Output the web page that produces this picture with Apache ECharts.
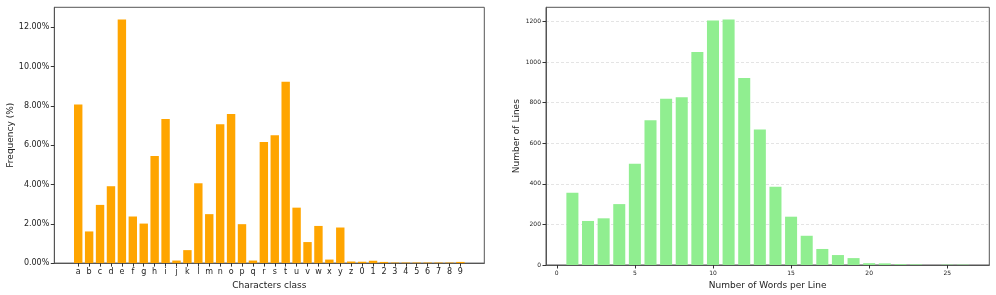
<!DOCTYPE html>
<html>
<head>
<meta charset="utf-8">
<script src="https://cdn.jsdelivr.net/npm/echarts@6/dist/echarts.min.js"></script>
<style>
html,body{margin:0;padding:0;background:#fff;}
#c{width:996px;height:295px;}
</style>
</head>
<body>
<div id="c"></div>
<script>
// ---- data ----
const chars = ['a','b','c','d','e','f','g','h','i','j','k','l','m','n','o','p','q','r','s','t','u','v','w','x','y','z','0','1','2','3','4','5','6','7','8','9'];
const freq = [8.07,1.61,2.96,3.91,12.39,2.37,2.01,5.45,7.33,0.13,0.66,4.06,2.49,7.06,7.58,1.98,0.13,6.16,6.50,9.22,2.82,1.07,1.89,0.18,1.81,0.08,0.07,0.12,0.06,0.03,0.03,0.03,0.03,0.03,0.03,0.06];
const freqTicks = [0,2,4,6,8,10,12];
const wordCounts = [1,2,3,4,5,6,7,8,9,10,11,12,13,14,15,16,17,18,19,20,21,22,23,25,26];
const lineCounts = [356,217,230,300,499,713,819,826,1049,1205,1209,921,667,386,238,144,79,49,34,9,8,4,3,2,2];
const wordTicks = [0,5,10,15,20,25];
const lineTicks = [0,200,400,600,800,1000,1200];

const FONT = 'DejaVu Sans';
const TXT = '#222';
const FRAME = '#555';

const chart = echarts.init(document.getElementById('c'), null, {renderer:'canvas'});
const charIdx = chars.map((c,i)=>i);

chart.setOption({
  animation:false,
  backgroundColor:'#fff',
  textStyle:{fontFamily:FONT},
  grid:[
    {left:54.3, right:511.7, top:7.3, bottom:31.7, show:true, borderColor:FRAME, borderWidth:1, backgroundColor:'transparent', containLabel:false},
    {left:546, right:6.7, top:7.3, bottom:30, show:true, borderColor:FRAME, borderWidth:1, backgroundColor:'transparent', containLabel:false}
  ],
  xAxis:[
    {type:'value', gridIndex:0, min:-2.19, max:37.19,
     name:'Characters class', nameLocation:'middle', nameGap:14,
     nameTextStyle:{fontFamily:FONT, fontSize:9, color:TXT},
     axisLine:{show:true, onZero:false, lineStyle:{color:FRAME}},
     axisTick:{show:true, length:3.5, customValues:charIdx, lineStyle:{color:'#333'}},
     axisLabel:{show:true, customValues:charIdx, margin:5, fontSize:8, fontFamily:FONT, color:TXT,
       formatter:(v)=>chars[Math.round(v)]},
     splitLine:{show:false}},
    {type:'value', gridIndex:1, min:-0.69, max:27.69,
     name:'Number of Words per Line', nameLocation:'middle', nameGap:14,
     nameTextStyle:{fontFamily:FONT, fontSize:9, color:TXT},
     axisLine:{show:true, onZero:false, lineStyle:{color:FRAME}},
     axisTick:{show:true, length:3.5, customValues:wordTicks, lineStyle:{color:'#333'}},
     axisLabel:{show:true, customValues:wordTicks, margin:5, fontSize:6, fontFamily:FONT, color:TXT,
       formatter:(v)=>String(v)},
     splitLine:{show:false}}
  ],
  yAxis:[
    {type:'value', gridIndex:0, min:0, max:13.01,
     name:'Frequency (%)', nameLocation:'middle', nameGap:38,
     nameTextStyle:{fontFamily:FONT, fontSize:9, color:TXT},
     axisLine:{show:true, onZero:false, lineStyle:{color:FRAME}},
     axisTick:{show:true, length:3.5, customValues:freqTicks, lineStyle:{color:'#333'}},
     axisLabel:{show:true, customValues:freqTicks, margin:5, fontSize:8, fontFamily:FONT, color:TXT,
       formatter:(v)=>v.toFixed(2)+'%'},
     splitLine:{show:false}},
    {type:'value', gridIndex:1, min:0, max:1269.5,
     name:'Number of Lines', nameLocation:'middle', nameGap:25,
     nameTextStyle:{fontFamily:FONT, fontSize:9, color:TXT},
     axisLine:{show:true, onZero:false, lineStyle:{color:FRAME}},
     axisTick:{show:true, length:3.5, customValues:lineTicks, lineStyle:{color:'#333'}},
     axisLabel:{show:true, customValues:lineTicks, margin:5, fontSize:6, fontFamily:FONT, color:TXT,
       formatter:(v)=>String(v)},
     splitLine:{show:true, lineStyle:{color:'#d8d8d8', type:[3,2], width:0.7}}}
  ],
  series:[
    {type:'bar', xAxisIndex:0, yAxisIndex:0, barWidth:'77%', barMinHeight:0,
     itemStyle:{color:'#FFA500'},
     data:freq.map((v,i)=>[i,v])},
    {type:'bar', xAxisIndex:1, yAxisIndex:1, barWidth:'77%',
     itemStyle:{color:'#90EE90'},
     data:wordCounts.map((w,i)=>[w,lineCounts[i]])}
  ]
});
</script>
</body>
</html>
